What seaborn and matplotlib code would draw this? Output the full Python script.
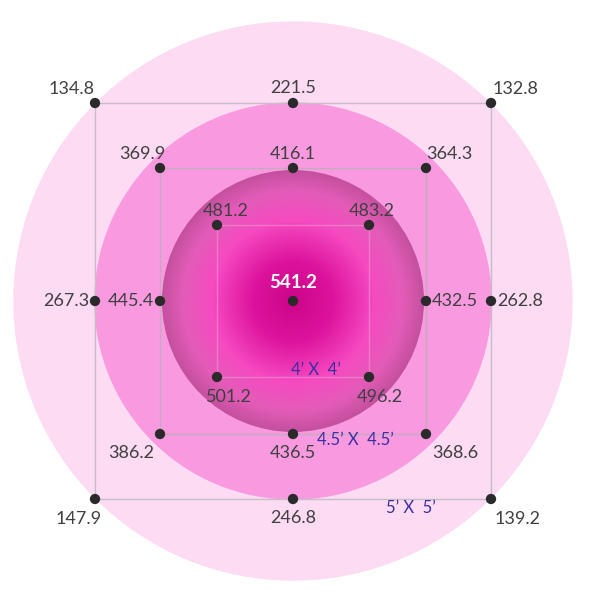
import numpy as np
import pandas as pd
import seaborn as sns
import matplotlib.pyplot as plt
from matplotlib.patches import Circle
from matplotlib.colors import LinearSegmentedColormap

# light readings, one list per square (order: TL, TM, TR, LM, RM, BL, BM, BR)
outer_vals = [134.8, 221.5, 132.8, 267.3, 262.8, 147.9, 246.8, 139.2]
middle_vals = [369.9, 416.1, 364.3, 445.4, 432.5, 386.2, 436.5, 368.6]
# inner square only has corners (TL, TR, BL, BR)
inner_vals = [481.2, 483.2, 501.2, 496.2]
center_val = 541.2
size_labels = ["5\u2019 X  5\u2019", "4.5\u2019 X  4.5\u2019", "4\u2019 X  4\u2019"]

# layout (pixels, figure is 600x600)
grid8 = [(-1, 1), (0, 1), (1, 1), (-1, 0), (1, 0), (-1, -1), (0, -1), (1, -1)]
grid4 = [(-1, 1), (1, 1), (-1, -1), (1, -1)]
half = {"outer": 198, "middle": 133, "inner": 76}
# label offsets (dx, dy) and alignment
off8_outer = [(-23, 14), (0, 15), (24, 14), (-6, 0), (6, 0), (-16, -20), (0, -19), (27, -20)]
off8_middle = [(-18, 14), (0, 14), (23, 14), (-6, 0), (6, 0), (-29, -19), (0, -19), (29, -19)]
off4_inner = [(9, 14), (3, 14), (12, -20), (11, -20)]
ha8 = ["center", "center", "center", "right", "left", "center", "center", "center"]

rows = []
for name, vals, grid, offs in [("outer", outer_vals, grid8, off8_outer),
                               ("middle", middle_vals, grid8, off8_middle),
                               ("inner", inner_vals, grid4, off4_inner)]:
    for i, (v, (gx, gy), (dx, dy)) in enumerate(zip(vals, grid, offs)):
        rows.append({"square": name, "x": gx * half[name], "y": gy * half[name],
                     "value": v, "dx": dx, "dy": dy,
                     "ha": ha8[i] if name != "inner" else "center"})
rows.append({"square": "center", "x": 0, "y": 0, "value": center_val,
             "dx": 0, "dy": 18, "ha": "center"})
df = pd.DataFrame(rows)

sns.set_theme(style="white")
plt.rcParams["font.family"] = ["Lato", "DejaVu Sans"]

fig = plt.figure(figsize=(6, 6), dpi=100)
ax = fig.add_axes([0, 0, 1, 1])
ax.set_xlim(-293, 307)
ax.set_ylim(-299, 301)
ax.set_aspect("equal")
ax.axis("off")

# circles
ax.add_patch(Circle((0, 0), 279, color="#fcdbf3", zorder=0))
ax.add_patch(Circle((0, 0), 198, color="#f99ae0", zorder=1))

# radial gradient for inner circle
r_in = 131
cmap = LinearSegmentedColormap.from_list(
    "glow", [(0, "#cc0589"), (0.3, "#dc129c"), (0.62, "#f64ac1"),
             (0.84, "#e35cb8"), (1.0, "#c4509f")])
yy, xx = np.mgrid[-r_in:r_in:400j, -r_in:r_in:400j]
rr = np.sqrt(xx ** 2 + yy ** 2) / r_in
im = ax.imshow(np.clip(rr, 0, 1), cmap=cmap, vmin=0, vmax=1,
               extent=(-r_in, r_in, -r_in, r_in), origin="lower", zorder=2)
clip = Circle((0, 0), r_in, transform=ax.transData)
im.set_clip_path(clip)

# square outlines
for name, lc, a in [("outer", "#c6bec6", 1.0), ("middle", "#c4acc0", 1.0), ("inner", "#e89ad0", 0.6)]:
    h = half[name]
    ax.plot([-h, h, h, -h, -h], [h, h, -h, -h, h], color=lc, lw=1, alpha=a, zorder=3)

sns.scatterplot(data=df, x="x", y="y", color="#2a2a2a", s=55,
                edgecolor="none", ax=ax, zorder=5, legend=False)
ax.set_xlabel("")
ax.set_ylabel("")

for _, r in df.iterrows():
    if r["square"] == "center":
        ax.text(r["x"] + r["dx"], r["y"] + r["dy"], f"{r['value']:.1f}",
                ha="center", va="center", fontsize=13.5, color="white",
                fontweight="bold", zorder=6)
    else:
        ax.text(r["x"] + r["dx"], r["y"] + r["dy"], f"{r['value']:.1f}",
                ha=r["ha"], va="center", fontsize=13, color="#404040", zorder=6)

# size annotations
for txt, (tx, ty) in zip(size_labels, [(118, -207), (62, -139), (23, -69)]):
    ax.text(tx, ty, txt, ha="center", va="center", fontsize=12,
            color="#3a30a0", zorder=6)

fig.savefig("out.png", dpi=100, facecolor="white")
